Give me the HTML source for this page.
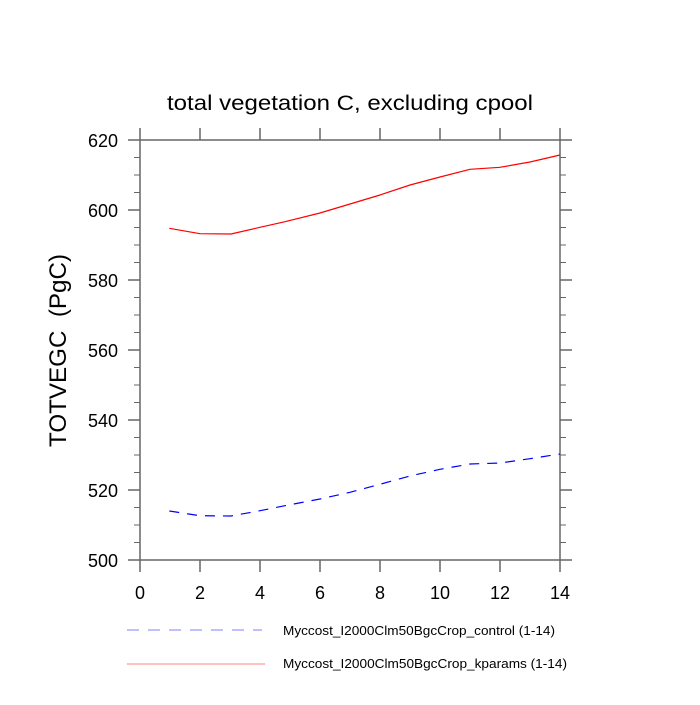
<!DOCTYPE html>
<html><head><style>body{margin:0;background:#fff}</style></head><body>
<svg width="700" height="700" xmlns="http://www.w3.org/2000/svg" font-family="Liberation Sans, sans-serif">
<rect width="700" height="700" fill="#fff"/>
<text x="167" y="110" font-size="21" textLength="366" lengthAdjust="spacingAndGlyphs">total vegetation C, excluding cpool</text>
<text transform="translate(66,447) rotate(-90)" font-size="24" textLength="193" lengthAdjust="spacingAndGlyphs" xml:space="preserve">TOTVEGC  (PgC)</text>
<g stroke="#666" stroke-width="1.5" fill="none">
<rect x="140" y="140" width="420" height="420"/>
<path d="M140,140v-12M200,140v-12M260,140v-12M320,140v-12M380,140v-12M440,140v-12M500,140v-12M560,140v-12
M140,560v12M200,560v12M260,560v12M320,560v12M380,560v12M440,560v12M500,560v12M560,560v12
M140,140h-12M140,210h-12M140,280h-12M140,350h-12M140,420h-12M140,490h-12M140,560h-12
M560,140h12M560,210h12M560,280h12M560,350h12M560,420h12M560,490h12M560,560h12"/>
<path stroke-width="1" d="M140,157.5h-6M140,175h-6M140,192.5h-6M140,227.5h-6M140,245h-6M140,262.5h-6M140,297.5h-6M140,315h-6M140,332.5h-6M140,367.5h-6M140,385h-6M140,402.5h-6M140,437.5h-6M140,455h-6M140,472.5h-6M140,507.5h-6M140,525h-6M140,542.5h-6
M560,157.5h6M560,175h6M560,192.5h6M560,227.5h6M560,245h6M560,262.5h6M560,297.5h6M560,315h6M560,332.5h6M560,367.5h6M560,385h6M560,402.5h6M560,437.5h6M560,455h6M560,472.5h6M560,507.5h6M560,525h6M560,542.5h6"/>
</g>
<g font-size="18" text-anchor="end">
<text x="118" y="147">620</text><text x="118" y="217">600</text><text x="118" y="287">580</text><text x="118" y="357">560</text><text x="118" y="427">540</text><text x="118" y="497">520</text><text x="118" y="567">500</text>
</g>
<g font-size="18" text-anchor="middle">
<text x="140" y="599">0</text><text x="200" y="599">2</text><text x="260" y="599">4</text><text x="320" y="599">6</text><text x="380" y="599">8</text><text x="440" y="599">10</text><text x="500" y="599">12</text><text x="560" y="599">14</text>
</g>
<polyline fill="none" stroke="#f00" stroke-width="1.2" points="169.3,228.3 200,233.7 231,234 260,227.3 285,221.7 320,213 350,204 380,195 410,185 440,177 470,169.3 500,167.3 530,162 560,155"/>
<polyline fill="none" stroke="#00f" stroke-width="1.2" stroke-dasharray="10,8" points="169.3,511 200,515.7 231,516 260,510.7 285,505.7 320,499 350,492.3 380,484.3 410,476 440,469.3 470,464 500,463 530,458.7 560,454"/>
<line x1="127" y1="630" x2="262" y2="630" stroke="#8080ff" stroke-width="1" stroke-dasharray="12,9"/>
<line x1="127" y1="664" x2="265" y2="664" stroke="#ff8080" stroke-width="1"/>
<g font-size="13">
<text x="283" y="635" textLength="272" lengthAdjust="spacingAndGlyphs">Myccost_I2000Clm50BgcCrop_control (1-14)</text>
<text x="283" y="668" textLength="284" lengthAdjust="spacingAndGlyphs">Myccost_I2000Clm50BgcCrop_kparams (1-14)</text>
</g>
</svg>
</body></html>
